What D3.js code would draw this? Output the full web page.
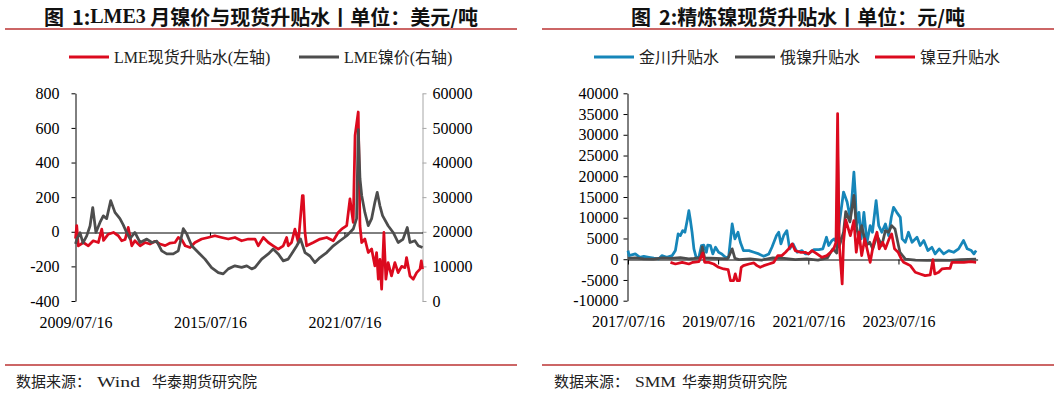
<!DOCTYPE html>
<html><head><meta charset="utf-8">
<script src="https://cdn.jsdelivr.net/npm/d3@7"></script>
<style>html,body{margin:0;padding:0;background:#fff;}svg{display:block}</style>
</head><body>
<svg id="chart" width="1057" height="395"></svg>
<script>
// ---------- DATA ----------
const leftTitle = ["图", "1:", "LME3", " 月镍价与现货升贴水丨单位：美元/吨"];
const rightTitle = ["图", "2:", "", "精炼镍现货升贴水丨单位：元/吨"];
const leftLegend = ["LME现货升贴水(左轴)", "LME镍价(右轴)"];
const rightLegend = ["金川升贴水", "俄镍升贴水", "镍豆升贴水"];
const leftSource = ["数据来源：", "Wind", "华泰期货研究院"];
const rightSource = ["数据来源：", "SMM", "华泰期货研究院"];

const leftYTicks = [-400, -200, 0, 200, 400, 600, 800];
const leftY2Ticks = [0, 10000, 20000, 30000, 40000, 50000, 60000];
const leftXTicks = ["2009-07-16", "2015-07-16", "2021-07-16"];
const rightYTicks = [-10000, -5000, 0, 5000, 10000, 15000, 20000, 25000, 30000, 35000, 40000];
const rightXTicks = ["2017-07-16", "2019-07-16", "2021-07-16", "2023-07-16"];

// LME spot premium (USD/t, left axis)
const lmeSpread = [
["2009-07-16",-40],["2009-08-05",35],["2009-08-31",-81],["2009-11-21",-62],["2010-02-10",-81],
["2010-05-01",-52],["2010-07-24",-62],["2010-09-17",15],["2010-10-16",-50],["2011-01-01",-14],
["2011-03-26",-4],["2011-06-14",-23],["2011-08-08",-52],["2011-10-02",-45],["2011-11-23",25],
["2012-01-19",-81],["2012-03-10",-52],["2012-06-03",-81],["2012-08-22",-62],["2012-11-10",-71],
["2013-02-03",-55],["2013-04-23",-71],["2013-07-16",-80],["2013-10-05",-65],["2013-12-24",-62],
["2014-02-15",-33],["2014-04-12",-45],["2014-06-07",-81],["2014-08-26",-91],["2014-11-14",-62],
["2015-03-03",-42],["2015-06-18",-33],["2015-10-05",-23],["2016-01-23",-33],["2016-05-10",-42],
["2016-08-26",-33],["2016-12-13",-52],["2017-04-01",-42],["2017-07-20",-42],["2017-09-10",-81],
["2017-12-02",-33],["2018-02-21",-62],["2018-05-12",-81],["2018-08-02",-100],["2018-10-23",-81],
["2018-12-17",-33],["2019-01-12",-81],["2019-03-07",-62],["2019-05-01",15],["2019-06-25",-62],
["2019-08-30",209],["2019-09-13",209],["2019-10-12",-4],["2019-11-07",-81],["2020-02-25",-62],
["2020-06-12",-42],["2020-09-30",-33],["2021-01-15",-52],["2021-04-05",-4],["2021-05-30",15],
["2021-08-22",35],["2021-10-14",190],["2021-12-06",54],["2022-01-05",556],["2022-02-26",692],
["2022-03-26",35],["2022-04-23",-62],["2022-06-14",-42],["2022-08-08",-120],["2022-10-02",-100],
["2022-11-24",-197],["2022-12-22",-120],["2023-01-19",-274],["2023-02-14",-160],["2023-03-14",-332],
["2023-04-20",-4],["2023-05-22",-274],["2023-06-28",-178],["2023-08-22",-255],["2023-10-16",-178],
["2023-12-08",-236],["2024-02-03",-200],["2024-03-29",-207],["2024-04-23",-149],["2024-06-18",-255],
["2024-08-11",-274],["2024-10-05",-236],["2024-11-28",-216],["2024-12-20",-168],["2025-01-08",-216]
];

// LME nickel price (USD/t, right axis)
const lmePrice = [
["2009-07-16",16500],["2009-08-11",18000],["2009-09-28",19700],["2009-11-15",16800],["2010-01-15",18800],
["2010-03-10",21700],["2010-04-23",27000],["2010-06-14",19800],["2010-08-19",22700],["2010-10-12",24600],
["2010-12-06",23800],["2011-02-10",29000],["2011-04-20",25600],["2011-07-10",23800],["2011-09-02",22000],
["2011-10-27",19800],["2011-12-20",18000],["2012-03-10",19800],["2012-06-03",16900],["2012-09-20",17900],
["2012-12-10",16900],["2013-03-01",17300],["2013-05-21",14500],["2013-08-11",13600],["2013-11-25",13600],
["2014-02-15",14500],["2014-05-08",20900],["2014-07-02",19400],["2014-09-22",15950],["2015-01-08",14000],
["2015-04-26",12100],["2015-08-11",9660],["2015-11-29",8200],["2016-02-17",7830],["2016-05-10",9280],
["2016-08-26",10150],["2016-12-13",9700],["2017-03-07",10150],["2017-05-26",9280],["2017-07-20",9700],
["2017-11-05",12100],["2018-02-21",13600],["2018-05-12",15000],["2018-08-02",13600],["2018-10-23",11600],
["2019-01-12",12100],["2019-03-07",13600],["2019-05-29",15900],["2019-07-31",17900],["2019-10-12",14000],
["2020-01-01",13000],["2020-03-22",11100],["2020-06-12",12560],["2020-09-30",14000],["2021-01-15",15950],
["2021-05-05",17400],["2021-08-22",18850],["2021-12-06",20780],["2022-01-30",23800],["2022-02-26",49500],
["2022-03-26",35400],["2022-04-23",30500],["2022-06-14",25600],["2022-08-08",21750],["2022-10-02",23800],
["2022-11-24",28500],["2023-01-01",31400],["2023-02-14",27500],["2023-03-29",24650],["2023-06-28",21750],
["2023-09-18",19800],["2023-12-08",16900],["2024-02-24",17800],["2024-05-05",21250],["2024-06-18",16900],
["2024-09-06",17400],["2024-10-31",15950],["2025-01-08",15450]
];

// Jinchuan premium (CNY/t)
const jinchuan = [
["2017-07-16",2080],["2017-07-25",870],["2017-09-13",1280],["2017-10-20",460],["2017-11-21",700],
["2018-01-01",460],["2018-02-10",240],["2018-03-22",70],["2018-04-16",870],["2018-05-26",460],
["2018-07-09",870],["2018-08-04",2080],["2018-08-26",6100],["2018-09-13",5700],["2018-10-02",6900],
["2018-10-20",6500],["2018-11-07",9300],["2018-11-21",11700],["2018-12-02",9700],["2018-12-17",6500],
["2019-01-01",2500],["2019-01-19",460],["2019-02-10",460],["2019-03-03",3280],["2019-03-22",3400],
["2019-04-12",1680],["2019-04-23",3400],["2019-05-15",3280],["2019-06-03",1280],["2019-06-25",2880],
["2019-07-20",1680],["2019-08-15",1280],["2019-09-13",460],["2019-10-09",460],["2019-11-07",8500],
["2019-11-29",4900],["2019-12-24",6500],["2020-01-12",4100],["2020-02-06",2080],["2020-03-22",2080],
["2020-05-01",1680],["2020-06-10",1280],["2020-07-20",700],["2020-08-30",1280],["2020-09-24",2880],
["2020-10-31",5700],["2020-11-18",6500],["2020-12-06",3700],["2020-12-28",5700],["2021-01-23",6900],
["2021-02-14",2500],["2021-03-14",3700],["2021-04-16",1680],["2021-05-26",2080],["2021-06-21",1280],
["2021-07-16",1280],["2021-08-30",2300],["2021-10-09",2300],["2021-11-10",2500],["2021-12-10",5300],
["2021-12-28",3300],["2022-01-23",4500],["2022-02-10",4900],["2022-03-03",4000],["2022-04-27",16200],
["2022-05-26",13800],["2022-06-21",9700],["2022-07-20",21000],["2022-08-01",15400],["2022-08-10",8100],
["2022-08-30",11300],["2022-09-17",4900],["2022-10-09",11300],["2022-11-03",4100],["2022-11-29",8100],
["2022-12-17",6500],["2023-01-16",14150],["2023-02-06",8100],["2023-03-03",6500],["2023-04-01",8500],
["2023-04-27",5700],["2023-05-19",10100],["2023-06-06",12500],["2023-07-02",11300],["2023-07-31",10100],
["2023-08-15",4900],["2023-09-10",4100],["2023-10-05",6500],["2023-11-03",4100],["2023-12-13",5300],
["2024-01-08",3300],["2024-02-06",4500],["2024-03-10",2080],["2024-04-12",2880],["2024-05-08",1280],
["2024-06-10",2500],["2024-07-16",1280],["2024-08-26",2080],["2024-10-05",1680],["2024-11-14",2500],
["2024-12-24",4500],["2025-01-23",2500],["2025-02-25",2080],["2025-03-18",1280],["2025-04-05",2080]
];

// Russian nickel premium (CNY/t)
const russian = [
["2017-07-16",200],["2017-09-13",300],["2017-11-21",100],["2018-02-06",0],["2018-04-20",300],
["2018-07-02",200],["2018-09-13",400],["2018-11-21",100],["2019-01-01",200],["2019-02-25",400],
["2019-03-10",3000],["2019-03-29",300],["2019-07-02",200],["2019-10-02",100],["2019-11-07",2500],
["2019-11-29",200],["2020-01-01",-100],["2020-04-01",100],["2020-07-02",-200],["2020-10-02",300],
["2021-01-01",200],["2021-04-01",-100],["2021-07-02",100],["2021-10-02",-200],["2021-12-17",300],
["2022-01-30",2500],["2022-03-03",1500],["2022-03-10",25000],["2022-03-22",3000],["2022-04-27",6500],
["2022-05-15",11500],["2022-06-18",9000],["2022-07-20",15400],["2022-08-08",8100],["2022-08-30",4900],
["2022-09-21",8100],["2022-10-27",3300],["2022-11-25",4100],["2022-12-20",2500],["2023-01-23",5700],
["2023-03-03",3300],["2023-04-01",6900],["2023-04-27",6500],["2023-05-22",8100],["2023-06-18",7300],
["2023-07-16",3300],["2023-07-28",1680],["2023-09-10",0],["2023-12-01",-200],["2024-03-01",-300],
["2024-06-01",-200],["2024-09-01",-300],["2024-12-01",-100],["2025-04-05",0]
];

// Nickel beans premium (CNY/t)
const beans = [
["2018-06-25",-750],["2018-08-04",-1150],["2018-09-28",-750],["2018-11-21",-1150],["2018-12-24",-750],
["2019-02-10",-600],["2019-03-14",1500],["2019-03-29",-750],["2019-05-01",-750],["2019-06-10",-1150],
["2019-07-20",-1950],["2019-08-30",-2350],["2019-10-05",-2500],["2019-10-24",-5170],["2019-11-18",-5170],
["2019-12-02",-3550],["2019-12-17",-5170],["2020-01-05",-5170],["2020-01-19",-1950],["2020-02-06",-1550],
["2020-03-22",-1150],["2020-05-01",-900],["2020-05-26",-1550],["2020-06-21",-1950],["2020-07-20",-1550],
["2020-08-30",-1150],["2020-10-09",-750],["2020-11-10",870],["2020-12-13",870],["2021-01-12",1680],
["2021-02-06",2500],["2021-03-07",3700],["2021-04-01",2080],["2021-05-12",1680],["2021-06-21",1680],
["2021-07-16",1280],["2021-08-15",2080],["2021-09-24",1280],["2021-11-03",460],["2021-12-13",870],
["2022-01-12",1680],["2022-02-06",2500],["2022-02-25",4100],["2022-03-10",35100],["2022-03-22",4100],
["2022-04-01",70],["2022-04-16",-5970],["2022-04-27",4100],["2022-05-15",9500],["2022-06-21",5700],
["2022-07-20",9300],["2022-08-08",1680],["2022-08-30",6500],["2022-09-21",870],["2022-10-16",4900],
["2022-11-10",1680],["2022-11-29",-750],["2022-12-28",4100],["2023-01-23",6500],["2023-02-10",2500],
["2023-03-10",4100],["2023-04-01",2500],["2023-05-01",4900],["2023-05-22",6100],["2023-06-14",2500],
["2023-07-13",1680],["2023-08-08",70],["2023-08-26",-750],["2023-09-24",-1150],["2023-10-20",-1550],
["2023-11-29",-3150],["2024-01-08",-3550],["2024-02-17",-3950],["2024-03-29",-3800],["2024-04-20",-100],
["2024-05-05",-3550],["2024-06-06",-3150],["2024-07-02",-2350],["2024-08-11",-2200],["2024-09-06",-2200],
["2024-09-21",-750],["2024-11-14",-750],["2024-12-28",-750],["2025-02-20",-600],["2025-04-05",-750]
];

// ---------- DRAWING ----------
const RED = "#DC0A1E", GRAY = "#4D4D4D", BLUE = "#1686B9", RULE = "#CC6666";
const serif = "'Liberation Serif','Times New Roman',serif";
const mixed = "'Liberation Serif','Noto Sans CJK SC',serif";
const hei = "'Noto Sans CJK SC',sans-serif";
const parse = d3.timeParse("%Y-%m-%d");
const fmt = d3.timeFormat("%Y/%m/%d");
const svg = d3.select("#chart");

function title(parts, cx) {
  const t = svg.append("text").attr("x", cx).attr("y", 15.5).attr("text-anchor", "middle")
    .attr("dominant-baseline", "central").attr("font-size", 20).attr("font-weight", 700)
    .attr("fill", "#111").attr("font-family", hei);
  t.append("tspan").text(parts[0]);
  t.append("tspan").attr("dx", 8).text(parts[1]);
  if (parts[2]) t.append("tspan").attr("font-family", serif).text(parts[2]);
  t.append("tspan").text(parts[3]);
}
function rule(x0, x1, y) {
  svg.append("line").attr("x1", x0).attr("x2", x1).attr("y1", y).attr("y2", y)
    .attr("stroke", RULE).attr("stroke-width", 2);
}
function legendItem(x, color, label) {
  svg.append("line").attr("x1", x).attr("x2", x + 40).attr("y1", 57).attr("y2", 57)
    .attr("stroke", color).attr("stroke-width", 3);
  svg.append("text").attr("x", x + 45).attr("y", 57).attr("dominant-baseline", "central")
    .attr("font-size", 16).attr("font-family", mixed).attr("fill", "#222").text(label);
}
function source(parts, x, x2, w2, x3) {
  const base = (sel) => sel.attr("y", 382).attr("dominant-baseline", "central")
    .attr("font-size", 15).attr("font-family", mixed).attr("fill", "#222");
  base(svg.append("text")).attr("x", x).text(parts[0]);
  base(svg.append("text")).attr("x", x2).attr("textLength", w2).attr("lengthAdjust", "spacingAndGlyphs").text(parts[1]);
  base(svg.append("text")).attr("x", x3).text(parts[2]);
}
function styleAxis(g, color, fontSize) {
  g.select(".domain").attr("stroke", color).attr("stroke-width", 1);
  g.selectAll(".tick line").attr("stroke", color).attr("stroke-width", 1);
  g.selectAll(".tick text").attr("fill", "#000").attr("font-size", fontSize).attr("font-family", serif);
}

// ===== Left panel =====
title(leftTitle, 261);
rule(5, 517, 29);
legendItem(69, RED, leftLegend[0]);
legendItem(299, GRAY, leftLegend[1]);

const x1 = d3.scaleTime().domain([parse("2009-07-16"), parse("2025-01-08")]).range([75.5, 422.5]);
const y1 = d3.scaleLinear().domain([-400, 800]).range([301, 93.3]);
const y1b = d3.scaleLinear().domain([0, 60000]).range([301, 93.3]);

const gL = svg.append("g").attr("transform", "translate(75.5,0)")
  .call(d3.axisLeft(y1).tickValues(leftYTicks).tickSize(4).tickSizeOuter(0).tickPadding(12).tickFormat(d => String(d)));
styleAxis(gL, "#000", 16);
const gR = svg.append("g").attr("transform", "translate(422.5,0)")
  .call(d3.axisRight(y1b).tickValues(leftY2Ticks).tickSize(4).tickSizeOuter(0).tickPadding(6).tickFormat(d => String(d)));
styleAxis(gR, "#A6A6A6", 16);
const gX = svg.append("g").attr("transform", `translate(0,${Math.round(y1(0)) + 0.5})`)
  .call(d3.axisBottom(x1).tickValues(leftXTicks.map(parse)).tickSize(5).tickSizeOuter(0).tickFormat(""));
styleAxis(gX, "#000", 16);
const gXl = svg.append("g").attr("transform", "translate(0,322)")
  .call(d3.axisBottom(x1).tickValues(leftXTicks.map(parse)).tickSize(0).tickFormat(fmt));
gXl.select(".domain").remove();
gXl.selectAll(".tick text").attr("y", 0).attr("dy", "0.35em").attr("font-size", 16).attr("font-family", serif).attr("fill", "#000");

const lineL = d3.line().x(d => x1(parse(d[0]))).y(d => y1(d[1]));
const lineLb = d3.line().x(d => x1(parse(d[0]))).y(d => y1b(d[1]));
svg.append("path").attr("d", lineL(lmeSpread)).attr("fill", "none").attr("stroke", RED)
  .attr("stroke-width", 2.75).attr("stroke-linejoin", "round");
svg.append("path").attr("d", lineLb(lmePrice)).attr("fill", "none").attr("stroke", GRAY)
  .attr("stroke-width", 2.75).attr("stroke-linejoin", "round");

source(leftSource, 16, 97, 43, 152);
rule(5, 517, 365);

// ===== Right panel =====
title(rightTitle, 798);
rule(542, 1054, 29);
legendItem(594, BLUE, rightLegend[0]);
legendItem(735, GRAY, rightLegend[1]);
legendItem(875, RED, rightLegend[2]);

const x2 = d3.scaleTime().domain([parse("2017-07-16"), parse("2025-04-17")]).range([628, 977.6]);
const y2 = d3.scaleLinear().domain([-10000, 40000]).range([300.7, 93.3]);

const g2L = svg.append("g").attr("transform", "translate(627.5,0)")
  .call(d3.axisLeft(y2).tickValues(rightYTicks).tickSize(4).tickSizeOuter(0).tickPadding(5).tickFormat(d => String(d)));
styleAxis(g2L, "#000", 16);
const g2X = svg.append("g").attr("transform", `translate(0,${Math.round(y2(0)) + 0.5})`)
  .call(d3.axisBottom(x2).tickValues(rightXTicks.map(parse)).tickSize(5).tickSizeOuter(0).tickFormat(""));
styleAxis(g2X, "#000", 16);
const g2Xl = svg.append("g").attr("transform", "translate(0,321.5)")
  .call(d3.axisBottom(x2).tickValues(rightXTicks.map(parse)).tickSize(0).tickFormat(fmt));
g2Xl.select(".domain").remove();
g2Xl.selectAll(".tick text").attr("y", 0).attr("dy", "0.35em").attr("font-size", 16).attr("font-family", serif).attr("fill", "#000");

const line2 = d3.line().x(d => x2(parse(d[0]))).y(d => y2(d[1]));
[[jinchuan, BLUE], [russian, GRAY], [beans, RED]].forEach(([data, c]) => {
  svg.append("path").attr("d", line2(data)).attr("fill", "none").attr("stroke", c)
    .attr("stroke-width", 2.75).attr("stroke-linejoin", "round");
});

source(rightSource, 554, 635, 41, 682);
rule(542, 1054, 365);
</script>
</body></html>
